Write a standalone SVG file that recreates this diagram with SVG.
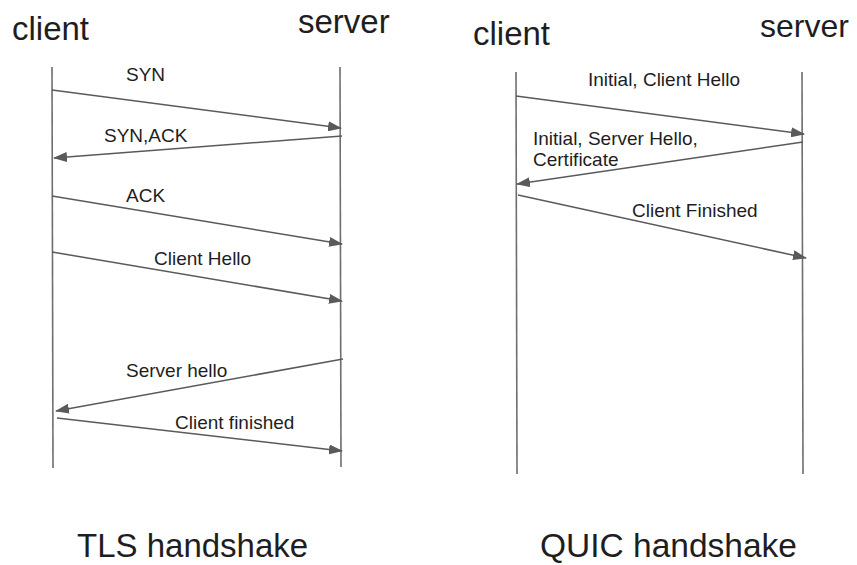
<svg xmlns="http://www.w3.org/2000/svg" width="857" height="565" viewBox="0 0 857 565">
<style>
.life{stroke:#6e6e6e;stroke-width:1.6;fill:none}
.msg{stroke:#5a5a5a;stroke-width:1.5;fill:none;marker-end:url(#ah)}
.hdr{font-family:"Liberation Sans",Arial,sans-serif;font-size:33px;fill:#1e1e1e}
.lbl{font-family:"Liberation Sans",Arial,sans-serif;font-size:19px;fill:#1e1e1e}
.ttl{font-family:"Liberation Sans",Arial,sans-serif;font-size:33px;fill:#1e1e1e}
</style>
<defs>
<marker id="ah" viewBox="0 0 14 10" refX="13" refY="5" markerWidth="14" markerHeight="10" markerUnits="userSpaceOnUse" orient="auto">
<path d="M0,0 L14,5 L0,10 z" fill="#5a5a5a"/>
</marker>
</defs>
<rect width="857" height="565" fill="#ffffff"/>
<g id="tls-client"><text class="hdr" x="12" y="40">client</text><line class="life" x1="52" y1="67" x2="53" y2="468"/></g>
<g id="tls-server"><text class="hdr" x="298" y="33">server</text><line class="life" x1="340" y1="67" x2="341" y2="467"/></g>
<g id="quic-client"><text class="hdr" x="473" y="45">client</text><line class="life" x1="516" y1="72" x2="517" y2="474"/></g>
<g id="quic-server"><text class="hdr" x="760" y="37" style="font-size:32px">server</text><line class="life" x1="802" y1="72" x2="803" y2="474"/></g>
<g id="connectors">
<line class="msg" x1="52" y1="90" x2="341" y2="128"/>
<line class="msg" x1="342" y1="136" x2="54" y2="158"/>
<line class="msg" x1="52" y1="196" x2="342" y2="244"/>
<line class="msg" x1="52" y1="252" x2="342" y2="301"/>
<line class="msg" x1="343" y1="359" x2="56" y2="411"/>
<line class="msg" x1="57" y1="418" x2="342" y2="451"/>
<line class="msg" x1="516" y1="96" x2="804" y2="134"/>
<line class="msg" x1="803" y1="142" x2="517" y2="184"/>
<line class="msg" x1="518" y1="195" x2="806" y2="258"/>
</g>
<g id="labels">
<text class="lbl" x="126" y="81">SYN</text>
<text class="lbl" x="104" y="142">SYN,ACK</text>
<text class="lbl" x="126" y="202">ACK</text>
<text class="lbl" x="154" y="265">Client Hello</text>
<text class="lbl" x="126" y="377">Server hello</text>
<text class="lbl" x="175" y="429">Client finished</text>
<text class="lbl" x="588" y="86">Initial, Client Hello</text>
<text class="lbl" x="533" y="145">Initial, Server Hello,</text>
<text class="lbl" x="533" y="166">Certificate</text>
<text class="lbl" x="632" y="217">Client Finished</text>
</g>
<g id="titles">
<text class="ttl" x="77" y="557">TLS handshake</text>
<text class="ttl" x="540" y="557" style="font-size:33.5px">QUIC handshake</text>
</g>
</svg>
